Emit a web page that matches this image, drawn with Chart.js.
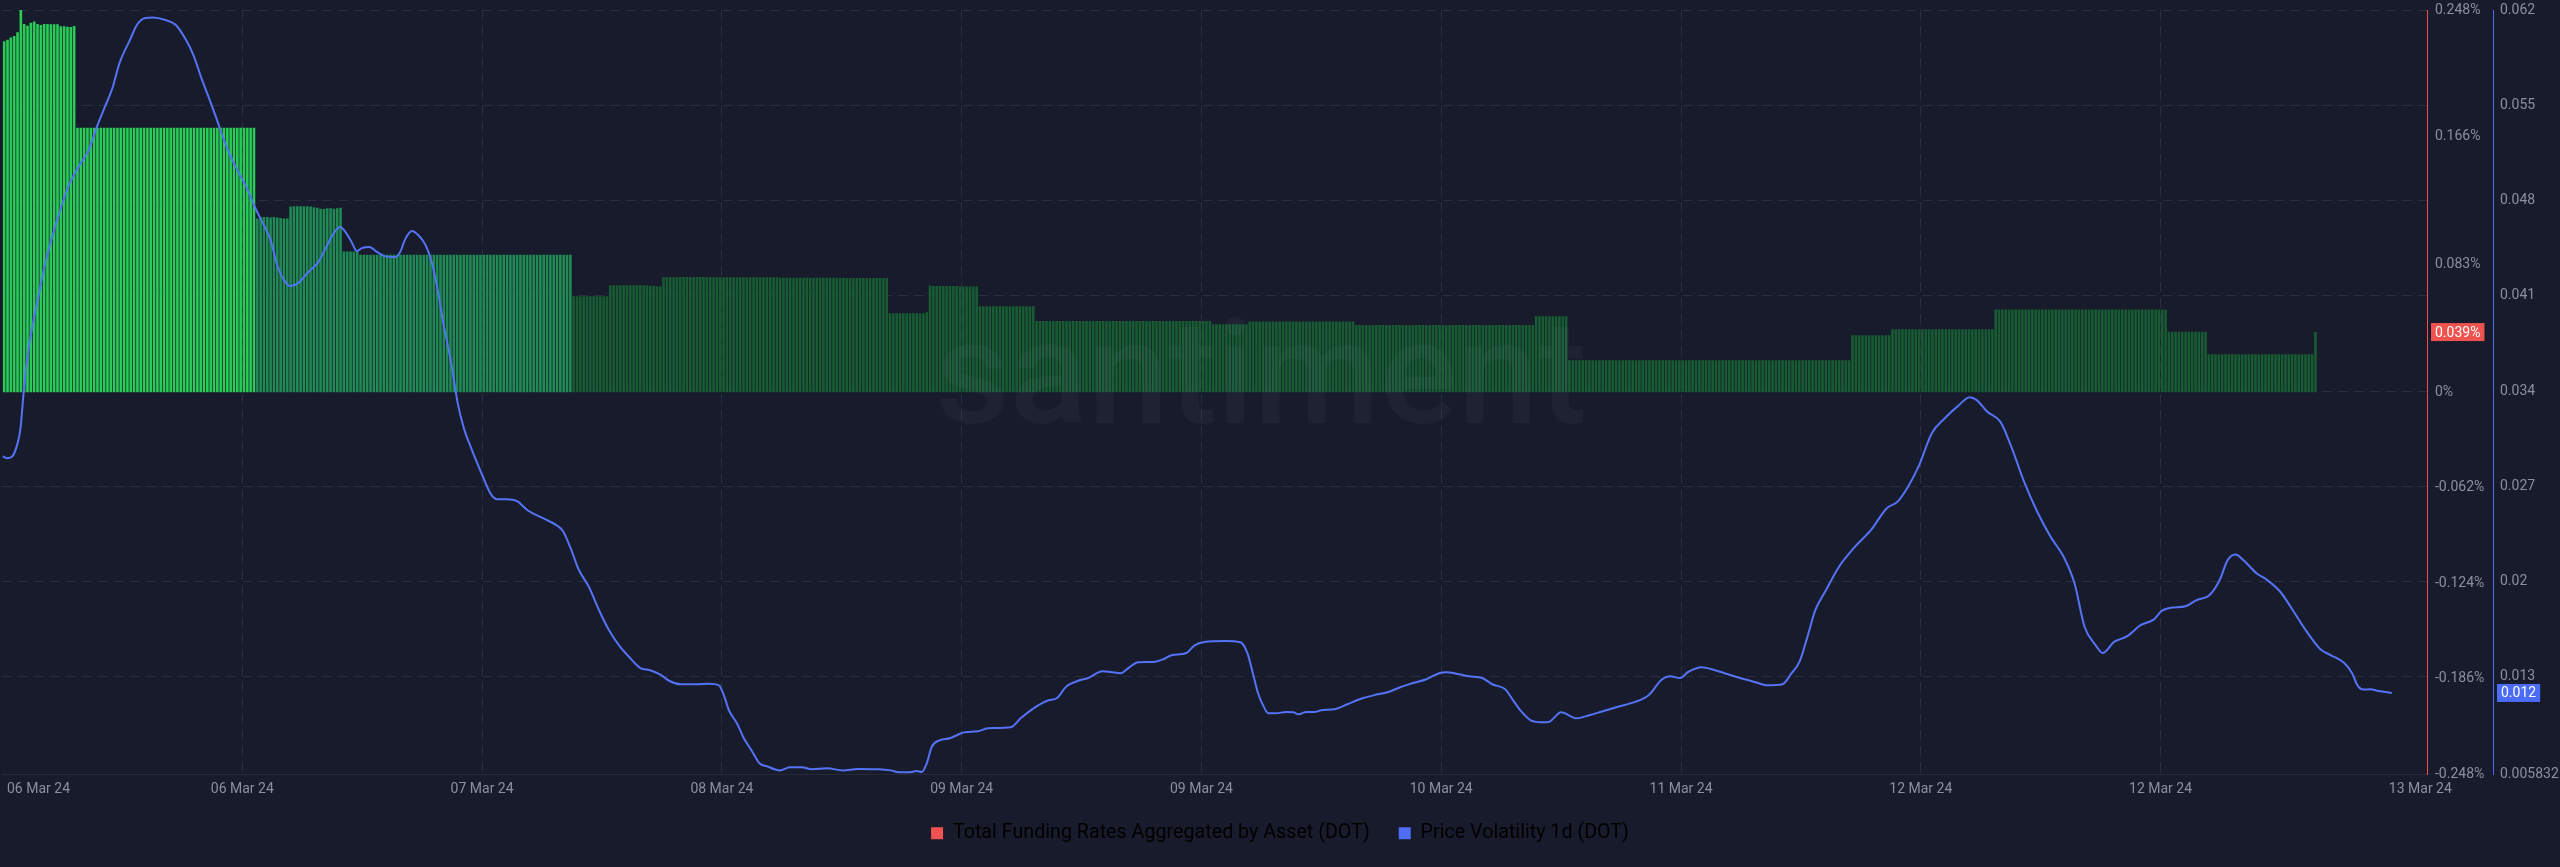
<!DOCTYPE html>
<html>
<head>
<meta charset="utf-8">
<title>DOT funding rates vs price volatility</title>
<script src="https://cdn.jsdelivr.net/npm/chart.js@4.4.0/dist/chart.umd.min.js"></script>
<style>
  html, body { margin: 0; padding: 0; background: #181b2b; }
  #wrap { width: 2560px; height: 867px; position: relative; }
</style>
</head>
<body>
<div id="wrap"><canvas id="chart"></canvas></div>
<script>
// x axis is in hours since the first sample (06 Mar 24)
const xTickHours = [2.7, 18, 36, 54, 72, 90, 108, 126, 144, 162, 181.5];
const xTickLabels = ['06 Mar 24', '06 Mar 24', '07 Mar 24', '08 Mar 24', '09 Mar 24', '09 Mar 24',
    '10 Mar 24', '11 Mar 24', '12 Mar 24', '12 Mar 24', '13 Mar 24'];
const fundingTicks = [0.248, 0.166, 0.083, 0, -0.062, -0.124, -0.186, -0.248];
const volatilityTicks = [0.062, 0.055, 0.048, 0.041, 0.034, 0.027, 0.02, 0.013, 0.005832];

const legendNames = ['Total Funding Rates Aggregated by Asset (DOT)', 'Price Volatility 1d (DOT)'];
const legendColors = ['#f05252', '#4f6ef7'];

// funding rate (%), one bar every 15 minutes
const fundingStepHours = 0.25;
const fundingRates = [
    0.2277, 0.2287, 0.2302, 0.2312, 0.2336, 0.2483, 0.2389, 0.2378, 0.2398, 0.2406,
    0.2389, 0.2382, 0.2389, 0.2389, 0.2387, 0.2387, 0.2387, 0.2374, 0.2374, 0.2372,
    0.2370, 0.2376,
    0.1716, 0.1716, 0.1716, 0.1716, 0.1716, 0.1716, 0.1716, 0.1716, 0.1716, 0.1716,
    0.1716, 0.1716, 0.1716, 0.1716, 0.1716, 0.1716, 0.1716, 0.1716, 0.1716, 0.1716,
    0.1716, 0.1716, 0.1716, 0.1716, 0.1716, 0.1716, 0.1716, 0.1716, 0.1716, 0.1716,
    0.1716, 0.1716, 0.1716, 0.1716, 0.1716, 0.1716, 0.1716, 0.1716, 0.1716, 0.1716,
    0.1716, 0.1716, 0.1716, 0.1716, 0.1716, 0.1716, 0.1716, 0.1716, 0.1716, 0.1716,
    0.1716, 0.1716, 0.1716, 0.1716,
    0.1127, 0.1136, 0.1136, 0.1136, 0.1133, 0.1136, 0.1133, 0.1130, 0.1127, 0.1127,
    0.1204, 0.1207, 0.1207, 0.1207, 0.1207, 0.1207, 0.1204, 0.1200, 0.1196, 0.1190,
    0.1188, 0.1194, 0.1194, 0.1190, 0.1194, 0.1196,
    0.0912, 0.0912, 0.0912, 0.0912, 0.0912, 0.0892, 0.0892, 0.0892, 0.0892, 0.0892,
    0.0892, 0.0892, 0.0892, 0.0892, 0.0892, 0.0892, 0.0892, 0.0892, 0.0892, 0.0892,
    0.0892, 0.0892, 0.0892, 0.0892, 0.0892, 0.0892, 0.0892, 0.0892, 0.0892, 0.0892,
    0.0892, 0.0892, 0.0892, 0.0892, 0.0892, 0.0892, 0.0892, 0.0892, 0.0892, 0.0892,
    0.0892, 0.0892, 0.0892, 0.0892, 0.0892, 0.0892, 0.0892, 0.0892, 0.0892, 0.0892,
    0.0892, 0.0892, 0.0892, 0.0892, 0.0892, 0.0892, 0.0892, 0.0892, 0.0892, 0.0892,
    0.0892, 0.0892, 0.0892, 0.0892, 0.0892, 0.0892, 0.0892, 0.0892, 0.0892,
    0.0622, 0.0622, 0.0622, 0.0622, 0.0622, 0.0622, 0.0622, 0.0622, 0.0622, 0.0622,
    0.0622,
    0.0693, 0.0693, 0.0693, 0.0693, 0.0693, 0.0693, 0.0693, 0.0693, 0.0693, 0.0693,
    0.0693, 0.0693, 0.0690, 0.0690, 0.0688, 0.0688,
    0.0747, 0.0747, 0.0747, 0.0747, 0.0747, 0.0747, 0.0747, 0.0747, 0.0747, 0.0747,
    0.0747, 0.0747, 0.0747, 0.0747, 0.0747, 0.0745, 0.0745, 0.0745, 0.0745, 0.0745,
    0.0745, 0.0745, 0.0745, 0.0745, 0.0745, 0.0745, 0.0745, 0.0745, 0.0745, 0.0745,
    0.0745, 0.0745, 0.0745, 0.0745, 0.0745, 0.0742, 0.0742, 0.0742, 0.0742, 0.0742,
    0.0742, 0.0742, 0.0742, 0.0742, 0.0742, 0.0742, 0.0742, 0.0742, 0.0742, 0.0742,
    0.0742, 0.0742, 0.0742, 0.0742, 0.0742, 0.0740, 0.0740, 0.0740, 0.0740, 0.0740,
    0.0740, 0.0740, 0.0740, 0.0740, 0.0740, 0.0740, 0.0740, 0.0740,
    0.0512, 0.0512, 0.0512, 0.0512, 0.0512, 0.0512, 0.0512, 0.0512, 0.0512, 0.0512,
    0.0512, 0.0518,
    0.0692, 0.0689, 0.0689, 0.0689, 0.0689, 0.0689, 0.0689, 0.0689, 0.0689, 0.0686,
    0.0686, 0.0686, 0.0686, 0.0686, 0.0686,
    0.0557, 0.0557, 0.0557, 0.0557, 0.0557, 0.0557, 0.0557, 0.0557, 0.0557, 0.0557,
    0.0557, 0.0557, 0.0557, 0.0557, 0.0557, 0.0557, 0.0557,
    0.0462, 0.0462, 0.0462, 0.0462, 0.0462, 0.0462, 0.0462, 0.0462, 0.0462, 0.0462,
    0.0462, 0.0462, 0.0462, 0.0462, 0.0462, 0.0462, 0.0462, 0.0462, 0.0462, 0.0462,
    0.0462, 0.0462, 0.0462, 0.0462, 0.0462, 0.0462, 0.0462, 0.0462, 0.0462, 0.0462,
    0.0462, 0.0462, 0.0462, 0.0462, 0.0462, 0.0462, 0.0462, 0.0462, 0.0462, 0.0462,
    0.0462, 0.0462, 0.0462, 0.0462, 0.0462, 0.0462, 0.0462, 0.0462, 0.0462, 0.0462,
    0.0462, 0.0462, 0.0462,
    0.0440, 0.0440, 0.0440, 0.0440, 0.0440, 0.0440, 0.0440, 0.0440, 0.0440, 0.0440,
    0.0440,
    0.0459, 0.0459, 0.0459, 0.0459, 0.0459, 0.0459, 0.0459, 0.0459, 0.0459, 0.0459,
    0.0459, 0.0459, 0.0459, 0.0459, 0.0459, 0.0459, 0.0459, 0.0459, 0.0459, 0.0459,
    0.0459, 0.0459, 0.0459, 0.0459, 0.0459, 0.0459, 0.0459, 0.0459, 0.0459, 0.0459,
    0.0459, 0.0459,
    0.0436, 0.0436, 0.0436, 0.0436, 0.0436, 0.0436, 0.0436, 0.0436, 0.0436, 0.0436,
    0.0436, 0.0436, 0.0436, 0.0436, 0.0436, 0.0436, 0.0436, 0.0436, 0.0436, 0.0436,
    0.0436, 0.0436, 0.0436, 0.0436, 0.0436, 0.0436, 0.0436, 0.0436, 0.0436, 0.0436,
    0.0436, 0.0436, 0.0436, 0.0436, 0.0436, 0.0436, 0.0436, 0.0436, 0.0436, 0.0436,
    0.0436, 0.0436, 0.0436, 0.0436, 0.0436, 0.0436, 0.0436, 0.0436, 0.0436, 0.0436,
    0.0436, 0.0436, 0.0436, 0.0436,
    0.0492, 0.0492, 0.0492, 0.0492, 0.0492, 0.0492, 0.0492, 0.0492, 0.0492, 0.0492,
    0.0207, 0.0207, 0.0207, 0.0207, 0.0207, 0.0207, 0.0207, 0.0207, 0.0207, 0.0207,
    0.0207, 0.0207, 0.0207, 0.0207, 0.0207, 0.0207, 0.0207, 0.0207, 0.0207, 0.0207,
    0.0207, 0.0207, 0.0207, 0.0207, 0.0207, 0.0207, 0.0207, 0.0207, 0.0207, 0.0207,
    0.0207, 0.0207, 0.0207, 0.0207, 0.0207, 0.0207, 0.0207, 0.0207, 0.0207, 0.0207,
    0.0207, 0.0207, 0.0207, 0.0207, 0.0207, 0.0207, 0.0207, 0.0207, 0.0207, 0.0207,
    0.0207, 0.0207, 0.0207, 0.0207, 0.0207, 0.0207, 0.0207, 0.0207, 0.0207, 0.0207,
    0.0207, 0.0207, 0.0207, 0.0207, 0.0207, 0.0207, 0.0207, 0.0207, 0.0207, 0.0207,
    0.0207, 0.0207, 0.0207, 0.0207, 0.0207, 0.0207, 0.0207, 0.0207, 0.0207, 0.0207,
    0.0207, 0.0207, 0.0207, 0.0207, 0.0207,
    0.0369, 0.0369, 0.0369, 0.0369, 0.0369, 0.0369, 0.0369, 0.0369, 0.0369, 0.0369,
    0.0369, 0.0369,
    0.0408, 0.0408, 0.0408, 0.0408, 0.0408, 0.0408, 0.0408, 0.0408, 0.0408, 0.0408,
    0.0408, 0.0408, 0.0408, 0.0408, 0.0408, 0.0408, 0.0408, 0.0408, 0.0408, 0.0408,
    0.0408, 0.0408, 0.0408, 0.0408, 0.0408, 0.0408, 0.0408, 0.0408, 0.0408, 0.0408,
    0.0408,
    0.0537, 0.0537, 0.0537, 0.0537, 0.0537, 0.0537, 0.0537, 0.0537, 0.0537, 0.0537,
    0.0537, 0.0537, 0.0537, 0.0537, 0.0537, 0.0537, 0.0537, 0.0537, 0.0537, 0.0537,
    0.0537, 0.0537, 0.0537, 0.0537, 0.0537, 0.0537, 0.0537, 0.0537, 0.0537, 0.0537,
    0.0537, 0.0537, 0.0537, 0.0537, 0.0537, 0.0537, 0.0537, 0.0537, 0.0537, 0.0537,
    0.0537, 0.0537, 0.0537, 0.0537, 0.0537, 0.0537, 0.0537, 0.0537, 0.0537, 0.0537,
    0.0537, 0.0537,
    0.0392, 0.0392, 0.0392, 0.0392, 0.0392, 0.0392, 0.0392, 0.0392, 0.0392, 0.0392,
    0.0392, 0.0392,
    0.0246, 0.0246, 0.0246, 0.0246, 0.0246, 0.0246, 0.0246, 0.0246, 0.0246, 0.0246,
    0.0246, 0.0246, 0.0246, 0.0246, 0.0246, 0.0246, 0.0246, 0.0246, 0.0246, 0.0246,
    0.0246, 0.0246, 0.0246, 0.0246, 0.0246, 0.0246, 0.0246, 0.0246, 0.0246, 0.0246,
    0.0246, 0.0246,
    0.039
];

// price volatility 1d
const volHours = [
    0.00, 0.38, 0.75, 1.13, 1.35, 1.58, 1.91, 2.30, 2.68, 3.23, 3.83, 4.40, 4.95, 5.74, 6.50,
    7.05, 7.65, 8.25, 8.78, 9.56, 10.13, 10.73, 11.29, 12.23, 13.01, 13.78, 14.33, 14.93, 15.50, 16.05,
    16.65, 17.22, 17.78, 18.38, 18.94, 19.50, 20.10, 20.66, 21.23, 21.60, 22.20, 22.95, 23.70, 24.30, 24.87,
    25.34, 25.80, 26.21, 26.60, 26.98, 27.53, 28.13, 28.70, 29.48, 29.85, 30.23, 30.73, 31.20, 31.76, 32.22,
    32.70, 33.08, 33.68, 34.17, 34.63, 35.18, 35.97, 36.66, 37.13, 37.88, 38.63, 39.41, 40.58, 41.70, 42.08,
    42.68, 43.24, 44.03, 44.78, 45.53, 46.28, 47.06, 47.85, 48.60, 49.35, 50.10, 50.90, 52.05, 53.00, 53.78,
    54.15, 54.53, 55.13, 55.65, 56.25, 56.82, 57.38, 58.35, 59.10, 60.00, 60.75, 61.91, 63.08, 64.20, 65.74,
    66.68, 67.28, 68.03, 68.63, 69.00, 69.38, 69.75, 70.34, 71.10, 72.23, 73.20, 73.95, 75.68, 76.43, 77.40,
    78.53, 79.13, 79.88, 80.85, 81.45, 82.58, 83.18, 83.93, 84.49, 85.25, 86.40, 87.15, 87.75, 88.88, 89.48,
    90.23, 91.76, 92.93, 93.45, 93.86, 94.25, 94.63, 95.03, 95.59, 96.35, 96.90, 97.28, 97.88, 98.48, 99.00,
    99.98, 100.95, 102.08, 103.24, 104.03, 104.96, 105.90, 106.88, 107.84, 108.38, 109.35, 110.10, 111.08, 111.83, 112.80,
    113.40, 113.93, 114.72, 115.65, 116.06, 117.00, 118.16, 119.10, 120.00, 121.20, 122.55, 123.57, 124.58, 125.18, 125.93,
    126.53, 127.55, 128.55, 129.53, 130.50, 131.51, 132.51, 133.62, 134.30, 134.89, 135.49, 136.08, 136.88, 137.85, 139.05,
    140.25, 141.45, 142.24, 143.03, 143.82, 144.83, 145.80, 146.78, 147.68, 148.20, 148.99, 149.98, 150.75, 151.76, 152.75,
    153.75, 154.73, 155.54, 156.30, 157.13, 157.65, 158.51, 159.50, 160.50, 161.48, 162.08, 162.68, 163.88, 164.67, 165.66,
    166.43, 167.03, 167.63, 168.23, 169.20, 170.03, 171.00, 171.83, 172.80, 174.00, 174.79, 175.79, 176.38, 176.78, 177.23,
    177.75, 178.35, 179.36
];
const volValues = [
    0.02921, 0.02906, 0.02921, 0.03017, 0.03127, 0.03384, 0.03678, 0.03906, 0.04090, 0.04347, 0.04568, 0.04752, 0.04906, 0.05053, 0.05178,
    0.05332, 0.05480, 0.05627, 0.05810, 0.05979, 0.06097, 0.06141, 0.06144, 0.06126, 0.06090, 0.05979, 0.05869, 0.05700, 0.05553, 0.05406,
    0.05237, 0.05105, 0.04994, 0.04884, 0.04752, 0.04641, 0.04516, 0.04311, 0.04200, 0.04171, 0.04193, 0.04274, 0.04347, 0.04458, 0.04560,
    0.04605, 0.04560, 0.04494, 0.04428, 0.04450, 0.04458, 0.04421, 0.04391, 0.04384, 0.04421, 0.04516, 0.04575, 0.04546, 0.04472, 0.04347,
    0.04127, 0.03906, 0.03605, 0.03311, 0.03127, 0.02980, 0.02792, 0.02642, 0.02605, 0.02605, 0.02590, 0.02524, 0.02465, 0.02406, 0.02370,
    0.02237, 0.02090, 0.01958, 0.01789, 0.01642, 0.01531, 0.01443, 0.01366, 0.01348, 0.01318, 0.01267, 0.01245, 0.01245, 0.01248, 0.01237,
    0.01164, 0.01054, 0.00958, 0.00848, 0.00755, 0.00664, 0.00642, 0.00612, 0.00635, 0.00635, 0.00620, 0.00627, 0.00612, 0.00622, 0.00620,
    0.00612, 0.00598, 0.00598, 0.00607, 0.00600, 0.00664, 0.00784, 0.00833, 0.00848, 0.00892, 0.00899, 0.00921, 0.00929, 0.00995, 0.01068,
    0.01127, 0.01142, 0.01230, 0.01274, 0.01289, 0.01340, 0.01335, 0.01326, 0.01362, 0.01406, 0.01409, 0.01429, 0.01458, 0.01475, 0.01531,
    0.01556, 0.01563, 0.01553, 0.01473, 0.01326, 0.01179, 0.01090, 0.01032, 0.01032, 0.01041, 0.01039, 0.01024, 0.01041, 0.01041, 0.01054,
    0.01061, 0.01098, 0.01142, 0.01171, 0.01188, 0.01225, 0.01254, 0.01282, 0.01326, 0.01333, 0.01318, 0.01304, 0.01291, 0.01245, 0.01208,
    0.01127, 0.01054, 0.00980, 0.00965, 0.00967, 0.01039, 0.00995, 0.01017, 0.01043, 0.01078, 0.01115, 0.01164, 0.01282, 0.01304, 0.01291,
    0.01335, 0.01370, 0.01348, 0.01318, 0.01289, 0.01262, 0.01237, 0.01245, 0.01326, 0.01409, 0.01593, 0.01789, 0.01936, 0.02107, 0.02254,
    0.02377, 0.02539, 0.02585, 0.02695, 0.02842, 0.03090, 0.03200, 0.03289, 0.03355, 0.03333, 0.03247, 0.03173, 0.03002, 0.02732, 0.02511,
    0.02328, 0.02181, 0.01987, 0.01666, 0.01531, 0.01475, 0.01556, 0.01598, 0.01679, 0.01720, 0.01784, 0.01806, 0.01818, 0.01862, 0.01899,
    0.02009, 0.02156, 0.02198, 0.02156, 0.02061, 0.02009, 0.01923, 0.01804, 0.01656, 0.01502, 0.01458, 0.01401, 0.01326, 0.01237, 0.01206,
    0.01208, 0.01196, 0.01181
];

const fundingPoints = fundingRates.map((v, i) => ({ x: i * fundingStepHours + fundingStepHours / 2, y: v }));
const volPoints = volHours.map((h, i) => ({ x: h, y: volValues[i] }));

// bars get brighter the higher the rate
const barColor = (v) => v >= 0.15 ? '#29cc57' : (v >= 0.085 ? '#1f8a54' : '#175c32');

const tickColor = '#8a90a3';
const gridColor = '#2a2e41';

Chart.defaults.font.family = 'Roboto, "Noto Sans", sans-serif';
Chart.defaults.color = tickColor;

const watermark = {
    id: 'watermark',
    afterDatasetsDraw(chart) {
        const { ctx, chartArea } = chart;
        ctx.save();
        ctx.font = '500 145px Roboto';
        ctx.fillStyle = 'rgba(170, 180, 225, 0.05)';
        ctx.textAlign = 'center';
        ctx.textBaseline = 'alphabetic';
        ctx.fillText('santiment', chartArea.left + chartArea.width * 0.519, chartArea.top + chartArea.height * 0.54);
        ctx.restore();
    }
};

// coloured tags with the latest value of each series on its axis
const lastValueTags = {
    id: 'lastValueTags',
    afterDraw(chart) {
        const { ctx } = chart;
        const tag = (scale, value, text, bg) => {
            const y = scale.getPixelForValue(value);
            ctx.save();
            ctx.font = '14px Roboto';
            const w = ctx.measureText(text).width + 8;
            ctx.fillStyle = bg;
            ctx.fillRect(scale.left + 4, y - 9, w, 18);
            ctx.fillStyle = '#ffffff';
            ctx.textBaseline = 'middle';
            ctx.textAlign = 'left';
            ctx.fillText(text, scale.left + 8, y + 1);
            ctx.restore();
        };
        const lastFunding = fundingRates[fundingRates.length - 1];
        const lastVol = volValues[volValues.length - 1];
        tag(chart.scales.yFund, lastFunding, lastFunding.toFixed(3) + '%', '#ef5350');
        tag(chart.scales.yVol, lastVol, lastVol.toFixed(3), '#4a6cf7');
    }
};

// fixed axis width, and no extra room reserved above/below the plot
const fitRightAxis = (width) => (axis) => {
    axis.width = width;
    axis.paddingTop = 0;
    axis.paddingBottom = 0;
};

new Chart(document.getElementById('chart'), {
    type: 'bar',
    data: {
        datasets: [
            {
                type: 'bar',
                label: legendNames[0],
                data: fundingPoints,
                yAxisID: 'yFund',
                backgroundColor: (c) => barColor(c.raw ? c.raw.y : 0),
                borderWidth: 0,
                barPercentage: 0.78,
                categoryPercentage: 1,
                order: 1
            },
            {
                type: 'line',
                label: legendNames[1],
                data: volPoints,
                yAxisID: 'yVol',
                borderColor: '#5473f7',
                borderWidth: 2,
                pointRadius: 0,
                cubicInterpolationMode: 'monotone',
                order: 0
            }
        ]
    },
    options: {
        responsive: true,
        maintainAspectRatio: false,
        animation: false,
        layout: { padding: { top: 10, bottom: 14, left: 0, right: 0 } },
        scales: {
            x: {
                type: 'linear',
                offset: false,
                min: 0,
                max: 182,
                afterBuildTicks: (axis) => { axis.ticks = xTickHours.map(value => ({ value })); },
                afterFit: (axis) => { axis.height = 20; },
                ticks: {
                    autoSkip: false,
                    maxRotation: 0,
                    padding: 7,
                    color: tickColor,
                    font: { size: 14 },
                    callback: (value, index) => xTickLabels[index]
                },
                grid: {
                    offset: false,
                    color: (c) => (c.index === 0 || c.index === xTickHours.length - 1) ? 'rgba(0,0,0,0)' : gridColor,
                    drawTicks: false
                },
                border: { display: true, color: '#262a3b', dash: [10, 6] }
            },
            yFund: {
                position: 'right',
                weight: 0,
                min: -0.248,
                max: 0.248,
                afterBuildTicks: (axis) => { axis.ticks = fundingTicks.map(value => ({ value })); },
                afterFit: fitRightAxis(66),
                ticks: {
                    padding: 8,
                    color: tickColor,
                    font: { size: 14 },
                    callback: (value) => value + '%'
                },
                grid: { display: false, drawTicks: false },
                border: { display: true, color: '#ef4f4f', width: 1 }
            },
            yVol: {
                position: 'right',
                weight: 1,
                min: 0.005832,
                max: 0.062,
                afterBuildTicks: (axis) => { axis.ticks = volatilityTicks.map(value => ({ value })); },
                afterFit: fitRightAxis(67),
                ticks: {
                    padding: 7,
                    color: tickColor,
                    font: { size: 14 },
                    callback: (value) => String(value)
                },
                grid: { color: gridColor, drawTicks: false },
                border: { display: true, color: '#4d6cf0', width: 1, dash: [10, 6] }
            }
        },
        plugins: {
            tooltip: { enabled: false },
            legend: {
                position: 'bottom',
                labels: {
                    boxWidth: 12,
                    boxHeight: 12,
                    padding: 29,
                    color: '#dfe2ea',
                    font: { size: 19.7 },
                    generateLabels: () => legendNames.map((text, i) => ({
                        text,
                        fillStyle: legendColors[i],
                        strokeStyle: legendColors[i],
                        lineWidth: 0,
                        hidden: false,
                        datasetIndex: i
                    }))
                }
            }
        }
    },
    plugins: [watermark, lastValueTags]
});
</script>
</body>
</html>
